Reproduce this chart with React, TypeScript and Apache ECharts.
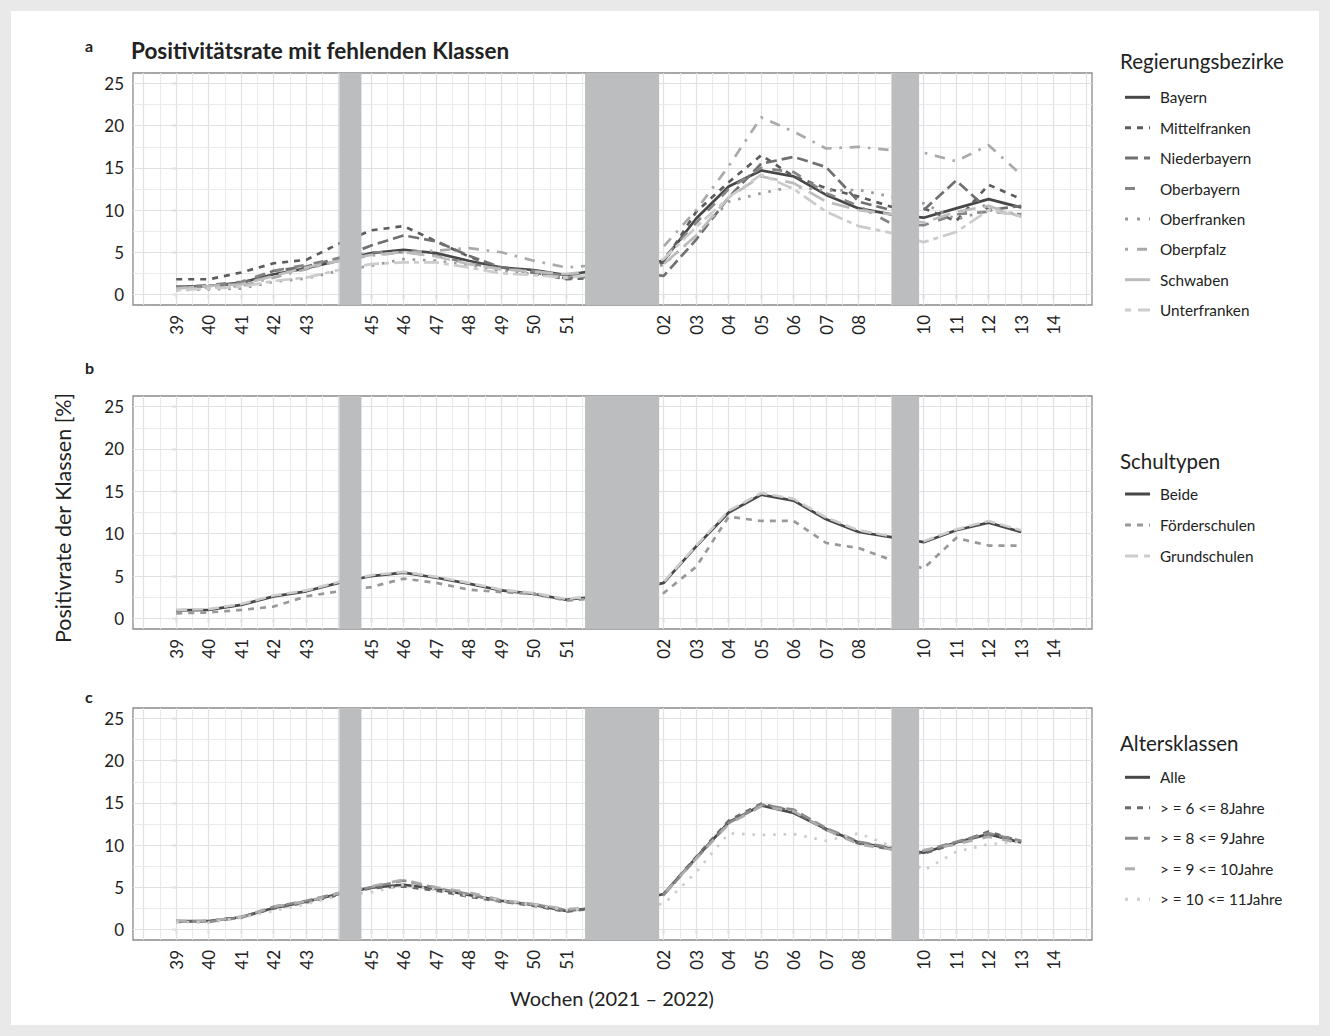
import React, { useEffect, useRef } from 'react';
import * as echarts from 'echarts';

// ---- categories / ticks ----
const weekLabels = ['39','40','41','42','43','44','45','46','47','48','49','50','51','52','01','02','03','04','05','06','07','08','09','10','11','12','13','14'];
const hiddenWeekLabels = ['44', '52', '01', '09'];
const yTickValues = [0, 5, 10, 15, 20, 25];
// school holidays in week-index units (start, end)
const holidayRanges = [[5.02, 5.7], [12.58, 14.86], [22.02, 22.86]];

// ---- panel a: Regierungsbezirke ----
const regNames = ['Bayern','Mittelfranken','Niederbayern','Oberbayern','Oberfranken','Oberpfalz','Schwaben','Unterfranken'];
const bayern =        [0.9,1.0,1.4,2.4,3.1,4.0,4.9,5.3,4.9,4.0,3.2,2.9,2.3,2.9,3.4,4.0,9.0,12.8,14.7,14.0,11.8,10.2,9.5,9.1,10.2,11.3,10.3];
const mittelfranken = [1.8,1.8,2.6,3.7,4.1,6.0,7.6,8.1,6.3,4.5,3.1,2.6,1.8,2.0,2.5,3.8,9.8,13.3,16.5,14.0,12.6,11.6,10.4,10.2,8.7,13.0,11.3];
const niederbayern =  [0.8,1.0,1.3,2.8,3.3,4.3,5.8,7.0,6.3,4.6,3.2,2.6,1.9,2.2,2.6,2.2,6.5,11.5,15.5,16.3,15.1,11.0,10.0,10.0,13.5,10.0,10.5];
const oberbayern =    [0.9,1.1,1.5,2.8,3.5,4.3,5.0,5.0,4.6,3.7,3.0,2.8,2.2,2.6,3.2,4.3,8.5,12.5,15.0,14.5,12.0,10.5,8.4,8.2,9.5,9.8,9.5];
const oberfranken =   [0.5,0.6,0.7,1.5,1.9,2.8,3.4,4.2,4.0,3.5,2.8,2.4,2.0,2.3,2.8,3.5,7.0,11.0,12.0,12.8,12.3,12.4,11.6,10.8,8.9,10.0,9.5];
const oberpfalz =     [0.6,0.8,1.0,2.0,3.0,4.0,4.6,5.0,5.2,5.5,5.0,4.0,3.2,3.5,4.5,5.7,10.0,15.2,21.0,19.3,17.3,17.5,17.1,16.8,15.8,17.7,14.2];
const schwaben =      [0.7,1.0,1.2,2.2,3.2,4.0,4.7,5.0,4.5,3.6,3.0,2.7,2.4,2.9,3.3,3.6,7.0,11.5,14.0,13.2,11.0,10.0,9.5,8.5,9.8,10.5,9.2];
const unterfranken =  [0.5,0.7,0.9,1.6,2.0,2.9,3.6,3.8,3.8,3.2,2.5,2.3,2.0,2.4,3.0,4.2,8.0,11.5,14.2,12.5,9.8,8.1,7.3,6.2,7.4,10.0,9.3];

// ---- panel b: Schultypen ----
const schulNames = ['Beide','Förderschulen','Grundschulen'];
const beide =         [0.95,1.0,1.6,2.6,3.2,4.2,5.0,5.4,4.8,4.1,3.3,2.9,2.2,2.6,3.3,4.2,8.5,12.5,14.6,13.9,11.7,10.2,9.6,9.0,10.4,11.3,10.2];
const foerderschulen =[0.6,0.7,1.0,1.4,2.6,3.2,3.7,4.7,4.2,3.4,3.1,2.9,2.1,2.4,2.7,3.0,6.1,12.0,11.5,11.5,8.9,8.3,6.9,5.9,9.5,8.6,8.6];
const grundschulen =  [1.0,1.1,1.7,2.7,3.3,4.3,5.1,5.5,4.9,4.2,3.4,3.0,2.3,2.7,3.4,4.3,8.6,12.7,14.8,14.1,11.9,10.4,9.7,9.1,10.5,11.5,10.4];

// ---- panel c: Altersklassen ----
const alterNames = ['Alle','> = 6 <= 8Jahre','> = 8 <= 9Jahre','> = 9 <= 10Jahre','> = 10 <= 11Jahre'];
const alle =      [1.0,1.0,1.45,2.55,3.3,4.2,4.95,5.3,4.8,4.1,3.4,2.9,2.2,2.6,3.3,4.2,8.5,12.7,14.7,13.8,11.9,10.3,9.6,9.1,10.3,11.3,10.3];
const alter6bis8 =  [0.9,1.0,1.5,2.5,3.2,4.1,4.9,5.1,4.6,3.9,3.3,2.8,2.1,2.6,3.3,4.2,8.6,12.9,14.9,14.0,11.8,10.2,9.5,9.0,10.2,11.6,10.4];
const alter8bis9 =  [1.0,0.9,1.4,2.7,3.4,4.3,5.0,5.8,4.9,4.2,3.3,3.0,2.3,2.6,3.3,4.1,8.4,12.6,14.8,14.2,12.0,10.4,9.7,9.3,10.4,11.4,10.5];
const alter9bis10 = [1.0,1.0,1.5,2.7,3.3,4.3,5.1,5.9,5.0,4.4,3.5,3.0,2.4,2.7,3.4,4.2,8.4,12.5,14.6,14.0,11.8,10.1,9.5,9.4,10.1,11.0,10.2];
const alter10bis11 =[0.9,0.8,1.4,2.2,3.0,4.0,4.4,5.3,4.7,4.0,3.5,2.9,2.3,2.5,2.9,3.0,6.8,11.4,11.2,11.3,10.5,11.4,9.9,7.0,9.2,10.1,10.4];

// ---- styles ----
const FONT = 'Lato, "Noto Sans", sans-serif';
const TEXT = '#222222';
const LW = 2.7;
const dashPatterns: Record<string, any> = {
  solid: 'solid',
  d22: [6, 6],
  d42: [11, 5],
  d44: [10, 10],
  d13: [2.6, 7.8],
  d1343: [2.6, 7.8, 10.4, 7.8],
  d73: [18, 8],
  d2262: [5, 5, 15, 5],
};
const legendDash: Record<string, any> = {
  solid: [],
  d22: [6, 6],
  d42: [13, 6],
  d44: [10, 15],
  d13: [3, 9],
  d1343: [3, 9, 10, 9],
  d73: [25, 0],
  d2262: [6, 7, 12, 6],
};

const panels = [
  {
    names: regNames,
    values: [bayern, mittelfranken, niederbayern, oberbayern, oberfranken, oberpfalz, schwaben, unterfranken],
    colors: ['#474747','#5c5c5c','#707070','#858585','#999999','#aaaaaa','#bdbdbd','#cccccc'],
    dashes: ['solid','d22','d42','d44','d13','d1343','d73','d2262'],
    top: 73, height: 232,
    legendTitle: 'Regierungsbezirke', legendTitleY: 61, legendY0: 97.3, legendStep: 30.4,
    letter: 'a', letterY: 45,
  },
  {
    names: schulNames,
    values: [beide, foerderschulen, grundschulen],
    colors: ['#474747','#999999','#cccccc'],
    dashes: ['solid','d22','d42'],
    top: 396, height: 233,
    legendTitle: 'Schultypen', legendTitleY: 461, legendY0: 494, legendStep: 31,
    letter: 'b', letterY: 367,
  },
  {
    names: alterNames,
    values: [alle, alter6bis8, alter8bis9, alter9bis10, alter10bis11],
    colors: ['#474747','#6a6a6a','#8c8c8c','#adadad','#cccccc'],
    dashes: ['solid','d22','d42','d44','d13'],
    top: 708, height: 232,
    legendTitle: 'Altersklassen', legendTitleY: 743, legendY0: 777.3, legendStep: 30.5,
    letter: 'c', letterY: 696,
  },
];

const X_MIN = -1.33;
const X_MAX = 28.18;
const Y_MIN = -1.25;
const Y_MAX = 26.25;
const GRID_LEFT = 133;
const GRID_WIDTH = 959;

function buildOption() {
  const tickIdx = weekLabels.map((w, i) => (hiddenWeekLabels.includes(w) ? -1 : i)).filter((i) => i >= 0);
  const grids: any[] = [];
  const xAxes: any[] = [];
  const yAxes: any[] = [];
  const series: any[] = [];
  const graphics: any[] = [];

  const gridLineData: any[] = [];
  for (let v = -1; v <= 28; v += 1) gridLineData.push({ xAxis: v, lineStyle: { color: '#e1e1e1', width: 1.2 } });
  for (let v = -0.5; v <= 28; v += 1) gridLineData.push({ xAxis: v, lineStyle: { color: '#ebebeb', width: 1 } });
  for (let v = 0; v <= 25; v += 5) gridLineData.push({ yAxis: v, lineStyle: { color: '#e1e1e1', width: 1.2 } });
  for (let v = 2.5; v <= 25; v += 5) gridLineData.push({ yAxis: v, lineStyle: { color: '#ebebeb', width: 1 } });

  panels.forEach((p, k) => {
    grids.push({
      left: GRID_LEFT, width: GRID_WIDTH, top: p.top, height: p.height,
      show: true, backgroundColor: '#ffffff', borderColor: '#8a8a8a', borderWidth: 1.3, z: 0,
    });
    xAxes.push({
      type: 'value', gridIndex: k, min: X_MIN, max: X_MAX,
      axisLine: { show: false },
      splitLine: { show: false },
      axisTick: { show: true, customValues: tickIdx, length: 4, lineStyle: { color: '#555', width: 1.2 } },
      axisLabel: {
        show: true, customValues: tickIdx, rotate: 90, margin: 10,
        fontSize: 17, color: TEXT, fontFamily: FONT,
        formatter: (v: number) => weekLabels[Math.round(v)] ?? '',
      },
    });
    yAxes.push({
      type: 'value', gridIndex: k, min: Y_MIN, max: Y_MAX,
      axisLine: { show: false },
      splitLine: { show: false },
      axisTick: { show: true, customValues: yTickValues, length: 4, lineStyle: { color: '#555', width: 1.2 } },
      axisLabel: {
        show: true, customValues: yTickValues, margin: 9,
        fontSize: 17, color: TEXT, fontFamily: FONT,
      },
    });
    // background grid lines
    series.push({
      type: 'line', name: 'grid' + k, xAxisIndex: k, yAxisIndex: k, data: [], z: 1, silent: true,
      markLine: { silent: true, symbol: 'none', z: 1, animation: false, label: { show: false }, lineStyle: { type: 'solid' }, data: gridLineData },
    });
    p.values.forEach((vals, s) => {
      series.push({
        type: 'line', name: p.names[s], xAxisIndex: k, yAxisIndex: k, z: 3,
        showSymbol: false, symbol: 'none', smooth: false,
        lineStyle: { color: p.colors[s], width: LW, type: dashPatterns[p.dashes[s]], cap: 'butt', join: 'round' },
        itemStyle: { color: p.colors[s] },
        data: vals.map((v, i) => [i, v]),
      });
    });
    // holiday rectangles on top
    series.push({
      type: 'line', name: 'ferien' + k, xAxisIndex: k, yAxisIndex: k, data: [], z: 10, silent: true,
      markArea: {
        silent: true, z: 10,
        itemStyle: { color: '#bcbdbf', opacity: 1 },
        data: holidayRanges.map((r) => [{ xAxis: r[0] }, { xAxis: r[1] }]),
      },
    });

    // legend (drawn manually)
    graphics.push({
      type: 'text', x: 1120, y: p.legendTitleY,
      style: { text: p.legendTitle, fontSize: 20.5, fill: TEXT, fontFamily: FONT, verticalAlign: 'middle' },
    });
    p.names.forEach((n, s) => {
      const y = p.legendY0 + s * p.legendStep;
      graphics.push({
        type: 'line', shape: { x1: 1125, y1: y, x2: 1150, y2: y },
        style: { stroke: p.colors[s], lineWidth: 3, lineDash: legendDash[p.dashes[s]] },
      });
      graphics.push({
        type: 'text', x: 1160, y,
        style: { text: n, fontSize: 15.3, fill: TEXT, fontFamily: FONT, verticalAlign: 'middle' },
      });
    });
    graphics.push({
      type: 'text', x: 85, y: p.letterY,
      style: { text: p.letter, fontSize: 16, fontWeight: 'bold', fill: TEXT, fontFamily: FONT, verticalAlign: 'middle' },
    });
  });

  graphics.push({
    type: 'text', x: 131, y: 50,
    style: { text: 'Positivitätsrate mit fehlenden Klassen', fontSize: 22.5, fontWeight: 'bold', fill: TEXT, fontFamily: FONT, verticalAlign: 'middle' },
  });
  graphics.push({
    type: 'text', x: 63, y: 518, rotation: Math.PI / 2,
    style: { text: 'Positivrate der Klassen [%]', fontSize: 21.5, fill: TEXT, fontFamily: FONT, align: 'center', verticalAlign: 'middle' },
  });
  graphics.push({
    type: 'text', x: 612, y: 998,
    style: { text: 'Wochen (2021 – 2022)', fontSize: 20, fill: TEXT, fontFamily: FONT, align: 'center', verticalAlign: 'middle' },
  });

  return {
    animation: false,
    backgroundColor: 'transparent',
    textStyle: { fontFamily: FONT },
    grid: grids,
    xAxis: xAxes,
    yAxis: yAxes,
    series,
    graphic: graphics,
  };
}

export default function App() {
  const ref = useRef<HTMLDivElement>(null);
  useEffect(() => {
    document.body.style.margin = '0';
    if (!ref.current) return;
    const chart = echarts.init(ref.current, undefined, { renderer: 'svg' });
    chart.setOption(buildOption() as any);
    return () => chart.dispose();
  }, []);
  return (
    <div style={{ position: 'fixed', left: 0, top: 0, width: 1330, height: 1036, background: '#e9e9e9' }}>
      <div style={{ position: 'absolute', left: 11, top: 11, width: 1308, height: 1014, background: '#ffffff' }} />
      <div ref={ref} style={{ position: 'absolute', left: 0, top: 0, width: 1330, height: 1036 }} />
    </div>
  );
}
